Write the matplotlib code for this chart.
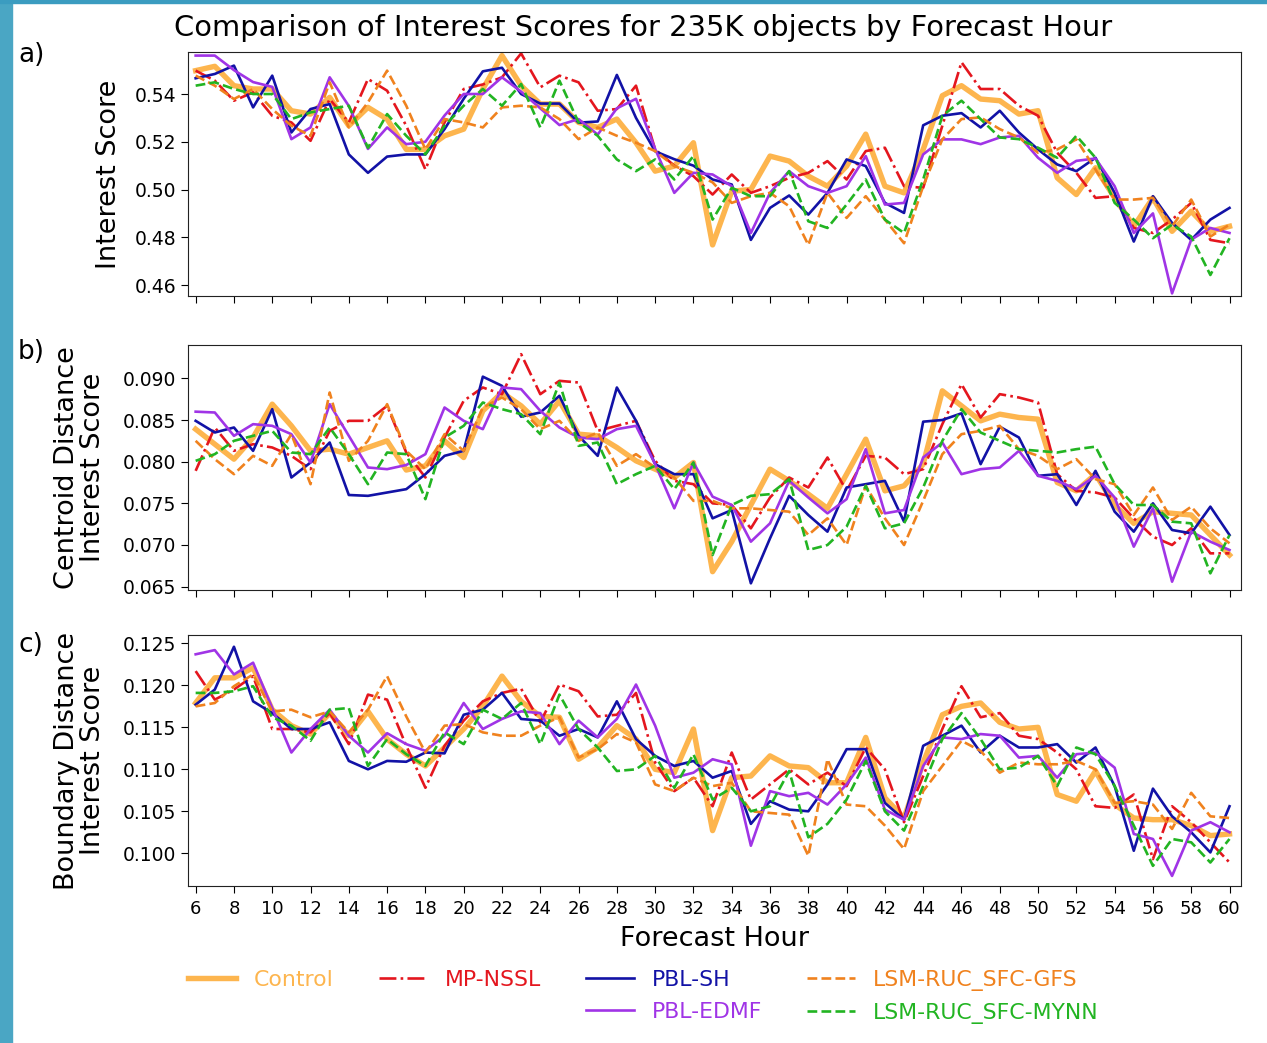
import numpy as np
import matplotlib
matplotlib.use("Agg")
import matplotlib.pyplot as plt
from matplotlib.lines import Line2D
from matplotlib.patches import Rectangle

hours = list(range(6, 61))
xticks = list(range(6, 61, 2))

names = ["Control", "MP-NSSL", "PBL-SH", "PBL-EDMF", "LSM-RUC_SFC-GFS", "LSM-RUC_SFC-MYNN"]
colors = ["#FDB54E", "#E4161E", "#1212A6", "#A034E6", "#F0821E", "#22B422"]
styles = ["-", "-.", "-", "-", "--", "--"]
widths = [3.9, 1.9, 1.9, 1.9, 1.9, 1.9]

# a) interest score
a_control = [0.5498, 0.5516, 0.5435, 0.5421, 0.5421, 0.5330, 0.5316, 0.5386, 0.5267, 0.5344, 0.5295, 0.5168, 0.5168, 0.5225,
             0.5253, 0.5421, 0.5561, 0.5435, 0.5358, 0.5358, 0.5281, 0.5260, 0.5295, 0.5196, 0.5077, 0.5098, 0.5196, 0.4768,
             0.4993, 0.5000, 0.5140, 0.5119, 0.5056, 0.5014, 0.5098, 0.5232, 0.5014, 0.4986, 0.5168, 0.5393, 0.5435, 0.5379,
             0.5372, 0.5316, 0.5330, 0.5049, 0.4979, 0.5091, 0.4965, 0.4846, 0.4965, 0.4825, 0.4909, 0.4825, 0.4846]
a_nssl = [0.5498, 0.5456, 0.5372, 0.5407, 0.5309, 0.5281, 0.5204, 0.5379, 0.5281, 0.5463, 0.5414, 0.5267, 0.5084, 0.5281,
          0.5421, 0.5440, 0.5470, 0.5570, 0.5428, 0.5477, 0.5449, 0.5330, 0.5337, 0.5435, 0.5168, 0.5100, 0.5056, 0.4979,
          0.5063, 0.4986, 0.5014, 0.5049, 0.5070, 0.5119, 0.5042, 0.5161, 0.5175, 0.5014, 0.5007, 0.5267, 0.5533, 0.5421,
          0.5421, 0.5351, 0.5309, 0.5154, 0.5070, 0.4965, 0.4972, 0.4839, 0.4818, 0.4874, 0.4944, 0.4789, 0.4775]
a_sh = [0.5466, 0.5484, 0.5519, 0.5344, 0.5477, 0.5239, 0.5337, 0.5358, 0.5147, 0.5070, 0.5138, 0.5147, 0.5147, 0.5253,
        0.5380, 0.5495, 0.5510, 0.5400, 0.5360, 0.5360, 0.5280, 0.5285, 0.5480, 0.5300, 0.5160, 0.5127, 0.5100, 0.5042,
        0.5021, 0.4789, 0.4923, 0.4975, 0.4895, 0.4986, 0.5126, 0.5098, 0.4944, 0.4902, 0.5269, 0.5309, 0.5320, 0.5260,
        0.5330, 0.5239, 0.5168, 0.5105, 0.5077, 0.5133, 0.4986, 0.4782, 0.4972, 0.4860, 0.4789, 0.4874, 0.4923]
a_edmf = [0.5561, 0.5561, 0.5500, 0.5450, 0.5430, 0.5211, 0.5260, 0.5470, 0.5350, 0.5170, 0.5260, 0.5190, 0.5200, 0.5310,
          0.5400, 0.5400, 0.5470, 0.5410, 0.5340, 0.5270, 0.5295, 0.5230, 0.5340, 0.5380, 0.5170, 0.4986, 0.5070, 0.5063,
          0.5014, 0.4818, 0.4986, 0.5077, 0.5014, 0.4986, 0.5014, 0.5140, 0.4937, 0.4944, 0.5147, 0.5210, 0.5210, 0.5190,
          0.5218, 0.5225, 0.5133, 0.5070, 0.5120, 0.5130, 0.5014, 0.4818, 0.4900, 0.4565, 0.4790, 0.4839, 0.4818]
a_gfs = [0.5477, 0.5435, 0.5379, 0.5421, 0.5337, 0.5267, 0.5225, 0.5449, 0.5260, 0.5365, 0.5498, 0.5351, 0.5168, 0.5295,
         0.5281, 0.5260, 0.5344, 0.5351, 0.5344, 0.5295, 0.5211, 0.5260, 0.5225, 0.5196, 0.5161, 0.5098, 0.5070, 0.5030,
         0.4944, 0.4972, 0.4986, 0.4930, 0.4768, 0.4986, 0.4881, 0.4972, 0.4874, 0.4775, 0.5014, 0.5210, 0.5295, 0.5302,
         0.5253, 0.5218, 0.5154, 0.5168, 0.5210, 0.5084, 0.4958, 0.4958, 0.4965, 0.4846, 0.4958, 0.4803, 0.4853]
a_mynn = [0.5435, 0.5449, 0.5421, 0.5400, 0.5400, 0.5295, 0.5323, 0.5337, 0.5351, 0.5175, 0.5316, 0.5225, 0.5147, 0.5267,
          0.5351, 0.5421, 0.5351, 0.5442, 0.5260, 0.5456, 0.5281, 0.5225, 0.5126, 0.5077, 0.5126, 0.5042, 0.5140, 0.4874,
          0.5007, 0.4972, 0.4972, 0.5077, 0.4867, 0.4839, 0.4937, 0.5042, 0.4874, 0.4818, 0.5042, 0.5309, 0.5372, 0.5295,
          0.5218, 0.5211, 0.5175, 0.5133, 0.5225, 0.5133, 0.4944, 0.4874, 0.4796, 0.4853, 0.4803, 0.4642, 0.4796]

# b) centroid distance interest score
b_control = [0.0839, 0.0821, 0.0803, 0.0829, 0.0869, 0.0843, 0.0813, 0.0815, 0.0809, 0.0817, 0.0825, 0.0790, 0.0795, 0.0825,
             0.0805, 0.0861, 0.0883, 0.0867, 0.0845, 0.0873, 0.0833, 0.0831, 0.0817, 0.0801, 0.0791, 0.0781, 0.0799, 0.0668,
             0.0704, 0.0748, 0.0791, 0.0777, 0.0761, 0.0744, 0.0785, 0.0827, 0.0765, 0.0771, 0.0797, 0.0885, 0.0867, 0.0849,
             0.0857, 0.0853, 0.0851, 0.0775, 0.0765, 0.0785, 0.0748, 0.0726, 0.0740, 0.0738, 0.0736, 0.0712, 0.0688]
b_nssl = [0.0789, 0.0841, 0.0813, 0.0821, 0.0817, 0.0807, 0.0791, 0.0837, 0.0849, 0.0849, 0.0867, 0.0811, 0.0781, 0.0829,
          0.0873, 0.0889, 0.0881, 0.0929, 0.0881, 0.0897, 0.0895, 0.0837, 0.0843, 0.0849, 0.0801, 0.0777, 0.0773, 0.0750,
          0.0748, 0.0720, 0.0757, 0.0781, 0.0769, 0.0805, 0.0765, 0.0807, 0.0805, 0.0785, 0.0791, 0.0845, 0.0893, 0.0853,
          0.0881, 0.0877, 0.0871, 0.0785, 0.0765, 0.0763, 0.0757, 0.0732, 0.0710, 0.0700, 0.0720, 0.0690, 0.0690]
b_sh = [0.0849, 0.0835, 0.0841, 0.0813, 0.0863, 0.0781, 0.0799, 0.0823, 0.0760, 0.0759, 0.0763, 0.0767, 0.0785, 0.0807,
        0.0813, 0.0902, 0.0891, 0.0854, 0.0859, 0.0879, 0.0831, 0.0807, 0.0889, 0.0849, 0.0797, 0.0785, 0.0785, 0.0732,
        0.0742, 0.0654, 0.0708, 0.0759, 0.0736, 0.0716, 0.0769, 0.0773, 0.0777, 0.0728, 0.0848, 0.0850, 0.0858, 0.0797,
        0.0842, 0.0829, 0.0783, 0.0785, 0.0748, 0.0789, 0.0740, 0.0716, 0.0750, 0.0718, 0.0714, 0.0746, 0.0712]
b_edmf = [0.0860, 0.0859, 0.0831, 0.0845, 0.0843, 0.0833, 0.0799, 0.0869, 0.0831, 0.0793, 0.0791, 0.0796, 0.0809, 0.0865,
          0.0849, 0.0839, 0.0889, 0.0887, 0.0861, 0.0841, 0.0829, 0.0827, 0.0839, 0.0843, 0.0797, 0.0744, 0.0799, 0.0758,
          0.0748, 0.0704, 0.0726, 0.0777, 0.0757, 0.0738, 0.0755, 0.0815, 0.0738, 0.0742, 0.0805, 0.0823, 0.0785, 0.0791,
          0.0793, 0.0813, 0.0783, 0.0777, 0.0767, 0.0783, 0.0757, 0.0698, 0.0744, 0.0656, 0.0716, 0.0704, 0.0694]
b_gfs = [0.0825, 0.0803, 0.0785, 0.0807, 0.0795, 0.0833, 0.0773, 0.0883, 0.0801, 0.0825, 0.0869, 0.0813, 0.0791, 0.0833,
         0.0813, 0.0865, 0.0877, 0.0863, 0.0839, 0.0849, 0.0825, 0.0835, 0.0795, 0.0809, 0.0793, 0.0781, 0.0753, 0.0753,
         0.0744, 0.0744, 0.0742, 0.0740, 0.0712, 0.0732, 0.0700, 0.0771, 0.0732, 0.0700, 0.0753, 0.0809, 0.0833, 0.0837,
         0.0843, 0.0815, 0.0807, 0.0791, 0.0803, 0.0779, 0.0773, 0.0736, 0.0769, 0.0730, 0.0746, 0.0720, 0.0702]
b_mynn = [0.0801, 0.0809, 0.0825, 0.0831, 0.0837, 0.0811, 0.0809, 0.0841, 0.0809, 0.0773, 0.0811, 0.0809, 0.0755, 0.0829,
          0.0843, 0.0871, 0.0863, 0.0857, 0.0833, 0.0895, 0.0819, 0.0823, 0.0773, 0.0785, 0.0795, 0.0767, 0.0799, 0.0688,
          0.0748, 0.0759, 0.0761, 0.0779, 0.0694, 0.0700, 0.0722, 0.0771, 0.0720, 0.0726, 0.0769, 0.0825, 0.0863, 0.0835,
          0.0825, 0.0815, 0.0813, 0.0811, 0.0815, 0.0818, 0.0773, 0.0748, 0.0748, 0.0728, 0.0726, 0.0666, 0.0712]

# c) boundary distance interest score
c_control = [0.1179, 0.1209, 0.1209, 0.1221, 0.1171, 0.1152, 0.1142, 0.1167, 0.1140, 0.1169, 0.1136, 0.1118, 0.1104, 0.1126,
             0.1148, 0.1175, 0.1211, 0.1181, 0.1163, 0.1162, 0.1112, 0.1126, 0.1152, 0.1136, 0.1100, 0.1096, 0.1148, 0.1027,
             0.1090, 0.1092, 0.1116, 0.1104, 0.1102, 0.1084, 0.1084, 0.1138, 0.1066, 0.1042, 0.1108, 0.1165, 0.1175, 0.1179,
             0.1156, 0.1148, 0.1150, 0.1070, 0.1062, 0.1098, 0.1058, 0.1042, 0.1040, 0.1040, 0.1033, 0.1021, 0.1023]
c_nssl = [0.1217, 0.1183, 0.1195, 0.1211, 0.1148, 0.1148, 0.1144, 0.1167, 0.1130, 0.1189, 0.1183, 0.1128, 0.1078, 0.1128,
          0.1158, 0.1181, 0.1191, 0.1196, 0.1156, 0.1201, 0.1193, 0.1163, 0.1165, 0.1191, 0.1108, 0.1074, 0.1090, 0.1056,
          0.1120, 0.1064, 0.1082, 0.1100, 0.1082, 0.1096, 0.1080, 0.1126, 0.1100, 0.1037, 0.1092, 0.1148, 0.1199, 0.1162,
          0.1167, 0.1140, 0.1136, 0.1120, 0.1100, 0.1056, 0.1054, 0.1070, 0.0993, 0.1056, 0.1037, 0.1013, 0.0989]
c_sh = [0.1177, 0.1195, 0.1246, 0.1181, 0.1167, 0.1148, 0.1148, 0.1156, 0.1110, 0.1100, 0.1110, 0.1109, 0.1120, 0.1119,
        0.1165, 0.1171, 0.1191, 0.1160, 0.1158, 0.1140, 0.1148, 0.1138, 0.1181, 0.1136, 0.1116, 0.1104, 0.1110, 0.1090,
        0.1098, 0.1035, 0.1062, 0.1052, 0.1050, 0.1082, 0.1124, 0.1124, 0.1060, 0.1040, 0.1128, 0.1140, 0.1152, 0.1120,
        0.1140, 0.1126, 0.1126, 0.1130, 0.1108, 0.1126, 0.1080, 0.1003, 0.1077, 0.1044, 0.1025, 0.1001, 0.1056]
c_edmf = [0.1237, 0.1242, 0.1213, 0.1227, 0.1173, 0.1120, 0.1148, 0.1171, 0.1140, 0.1120, 0.1143, 0.1130, 0.1122, 0.1140,
          0.1179, 0.1148, 0.1160, 0.1169, 0.1167, 0.1130, 0.1158, 0.1138, 0.1160, 0.1201, 0.1152, 0.1090, 0.1096, 0.1112,
          0.1106, 0.1009, 0.1074, 0.1068, 0.1072, 0.1058, 0.1082, 0.1114, 0.1052, 0.1040, 0.1104, 0.1138, 0.1136, 0.1142,
          0.1140, 0.1114, 0.1116, 0.1090, 0.1118, 0.1120, 0.1102, 0.1023, 0.1017, 0.0973, 0.1027, 0.1037, 0.1025]
c_gfs = [0.1175, 0.1179, 0.1199, 0.1213, 0.1169, 0.1171, 0.1162, 0.1169, 0.1144, 0.1171, 0.1211, 0.1163, 0.1120, 0.1152,
         0.1154, 0.1144, 0.1140, 0.1140, 0.1152, 0.1162, 0.1114, 0.1124, 0.1142, 0.1132, 0.1082, 0.1074, 0.1090, 0.1080,
         0.1084, 0.1050, 0.1048, 0.1046, 0.0997, 0.1112, 0.1058, 0.1056, 0.1033, 0.1005, 0.1074, 0.1104, 0.1134, 0.1122,
         0.1096, 0.1108, 0.1106, 0.1106, 0.1110, 0.1100, 0.1060, 0.1062, 0.1058, 0.1029, 0.1072, 0.1044, 0.1042]
c_mynn = [0.1191, 0.1191, 0.1193, 0.1199, 0.1162, 0.1152, 0.1134, 0.1171, 0.1173, 0.1104, 0.1136, 0.1118, 0.1104, 0.1144,
          0.1130, 0.1171, 0.1160, 0.1179, 0.1130, 0.1189, 0.1148, 0.1126, 0.1098, 0.1100, 0.1116, 0.1078, 0.1118, 0.1064,
          0.1078, 0.1050, 0.1056, 0.1098, 0.1019, 0.1035, 0.1064, 0.1110, 0.1050, 0.1027, 0.1080, 0.1136, 0.1167, 0.1136,
          0.1100, 0.1102, 0.1116, 0.1080, 0.1126, 0.1118, 0.1080, 0.1033, 0.0985, 0.1017, 0.1013, 0.0989, 0.1017]

panels = [
    ([a_control, a_nssl, a_sh, a_edmf, a_gfs, a_mynn], "Interest Score", "a)",
     (0.4554, 0.5576), [0.46, 0.48, 0.50, 0.52, 0.54], "%.2f"),
    ([b_control, b_nssl, b_sh, b_edmf, b_gfs, b_mynn], "Centroid Distance\nInterest Score", "b)",
     (0.0646, 0.0940), [0.065, 0.070, 0.075, 0.080, 0.085, 0.090], "%.3f"),
    ([c_control, c_nssl, c_sh, c_edmf, c_gfs, c_mynn], "Boundary Distance\nInterest Score", "c)",
     (0.0961, 0.1260), [0.100, 0.105, 0.110, 0.115, 0.120, 0.125], "%.3f"),
]

W, H = 1267, 1043
fig = plt.figure(figsize=(W / 100, H / 100), dpi=100)

# teal frame strip from the screenshot
fig.patches.append(Rectangle((0, 0), 12 / W, 1, transform=fig.transFigure, color="#4AA6C4", zorder=0))
fig.patches.append(Rectangle((0, 1 - 3 / H), 1, 3 / H, transform=fig.transFigure, color="#3B9CC0", zorder=0))

boxes = [(52, 296), (345, 590), (635, 886)]
letter_y = [55, 352, 645]
left, right = 188, 1241

for i, (series, ylab, letter, ylim, yt, fmt) in enumerate(panels):
    top, bot = boxes[i]
    ax = fig.add_axes([left / W, 1 - bot / H, (right - left) / W, (bot - top) / H])
    for vals, name, col, ls, lw in zip(series, names, colors, styles, widths):
        ax.plot(hours, vals, color=col, linestyle=ls, linewidth=lw, label=name)
    ax.set_xlim(5.6, 60.6)
    ax.set_ylim(*ylim)
    ax.set_yticks(yt)
    ax.set_yticklabels([fmt % v for v in yt])
    ax.set_xticks(xticks)
    ax.tick_params(axis="y", labelsize=13.5, length=5)
    ax.tick_params(axis="x", labelsize=13, length=5, pad=5)
    if i < 2:
        ax.set_xticklabels([])
    else:
        ax.set_xlabel("Forecast Hour", fontsize=19.5, labelpad=6)
    for sp in ax.spines.values():
        sp.set_color("#222222")
    yc = 1 - (top + bot) / 2 / H
    xc = 109 if i == 0 else 80
    fig.text(xc / W, yc, ylab, rotation=90, ha="center", va="center",
             fontsize=19.5, multialignment="center", linespacing=1.05)
    fig.text(18 / W, 1 - letter_y[i] / H, letter, fontsize=19, ha="left", va="center")

fig.text(643 / W, 1 - 28 / H, "Comparison of Interest Scores for 235K objects by Forecast Hour",
         fontsize=20.8, ha="center", va="center")

handles = [Line2D([], [], color=c, linestyle=s, linewidth=w) for c, s, w in zip(colors, styles, widths)]
blank = Line2D([], [], linestyle="none")
order_h = [handles[0], blank, handles[1], blank, handles[2], handles[3], handles[4], handles[5]]
order_l = [names[0], "", names[1], "", names[2], names[3], names[4], names[5]]
leg = fig.legend(order_h, order_l, ncol=4, frameon=False, fontsize=15.8,
                 loc="upper left", bbox_to_anchor=(188 / W, 1 - 970 / H),
                 borderpad=0, borderaxespad=0, handlelength=2.2, columnspacing=2.05,
                 labelspacing=0.55)
for txt, col in zip(leg.get_texts(), [colors[0], "w", colors[1], "w", colors[2], colors[3], colors[4], colors[5]]):
    txt.set_color(col)

fig.savefig("out.png", dpi=100)
